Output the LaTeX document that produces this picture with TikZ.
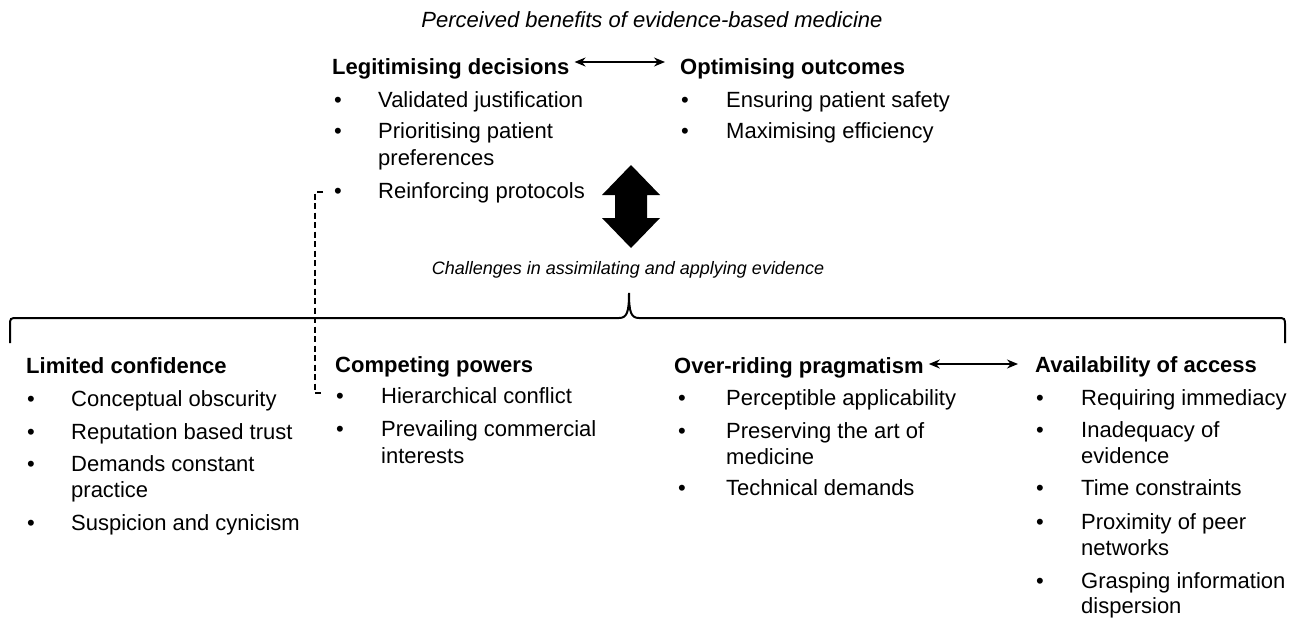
\documentclass[tikz,border=0pt]{standalone}
\usepackage{fontspec}
\setmainfont{Liberation Sans}
\usetikzlibrary{arrows.meta}
\begin{document}
\begin{tikzpicture}[x=1pt,y=-1pt,
  txt/.style={inner sep=0pt, anchor=west, font=\fontsize{22}{26}\selectfont, text height=20pt, text depth=3pt},
  head/.style={txt, font=\fontsize{22}{26}\selectfont\bfseries},
  bul/.style={txt},
  ttl/.style={inner sep=0pt, font=\fontsize{22}{26}\selectfont\itshape},
  sub/.style={inner sep=0pt, font=\fontsize{18}{22}\selectfont\itshape},
  link/.style={line width=1.6pt, {Stealth[length=11pt,width=9pt]}-{Stealth[length=11pt,width=9pt]}},
  dashlink/.style={line width=1.2pt, dash pattern=on 6pt off 3.5pt},
  bracestyle/.style={line width=2pt},
  bigarrow/.style={fill=black}
]
\useasboundingbox (0,0) rectangle (1298,619);

% ---- top: perceived benefits ----
\node[ttl] (title) at (652,20) {Perceived benefits of evidence-based medicine};

\node[head] (leg) at (332,66) {Legitimising decisions};
\node[head] (opt) at (680,66) {Optimising outcomes};
\draw[link] ([xshift=5pt,yshift=4pt]leg.east) -- ([xshift=-15pt,yshift=4pt]opt.west);

\node[bul] (lb1) at (334,99) {•};  \node[txt] (l1) at (378,99) {Validated justification};
\node[bul] (lb2) at (334,130) {•}; \node[txt] (l2a) at (378,130) {Prioritising patient};
                                   \node[txt] (l2b) at (378,157) {preferences};
\node[bul] (lb3) at (334,190) {•}; \node[txt] (l3) at (378,190) {Reinforcing protocols};

\node[bul] (ob1) at (681,99) {•};  \node[txt] (o1) at (726,99) {Ensuring patient safety};
\node[bul] (ob2) at (681,130) {•}; \node[txt] (o2) at (726,130) {Maximising efficiency};

% ---- big double arrow ----
\fill[bigarrow] (631,165) -- (660,195) -- (647,195) -- (647,218) -- (660,218) -- (631,248)
  -- (602,218) -- (615,218) -- (615,195) -- (602,195) -- cycle;

\node[sub] (chal) at (628,270) {Challenges in assimilating and applying evidence};

% ---- brace ----
\draw[bracestyle] (10,343) -- (10,326) .. controls (10,318) .. (18,318) -- (619,318)
  .. controls (627,318) and (629,312) .. (629,293)
  .. controls (629,312) and (631,318) .. (639,318) -- (1277,318)
  .. controls (1285,318) .. (1285,326) -- (1285,343);

% ---- bottom columns ----
\node[head] (lim) at (26,365) {Limited confidence};
\node[bul] (ab1) at (27,398) {•}; \node[txt] (a1) at (71,398) {Conceptual obscurity};
\node[bul] (ab2) at (27,431) {•}; \node[txt] (a2) at (71,431) {Reputation based trust};
\node[bul] (ab3) at (27,463) {•}; \node[txt] (a3a) at (71,463) {Demands constant};
                                  \node[txt] (a3b) at (71,489) {practice};
\node[bul] (ab4) at (27,522) {•}; \node[txt] (a4) at (71,522) {Suspicion and cynicism};

\node[head] (comp) at (335,364) {Competing powers};
\node[bul] (cb1) at (336,395) {•}; \node[txt] (c1) at (381,395) {Hierarchical conflict};
\node[bul] (cb2) at (336,428) {•}; \node[txt] (c2a) at (381,428) {Prevailing commercial};
                                  \node[txt] (c2b) at (381,455) {interests};

\node[head] (prag) at (674,365) {Over-riding pragmatism};
\node[bul] (pb1) at (678,397) {•}; \node[txt] (p1) at (726,397) {Perceptible applicability};
\node[bul] (pb2) at (678,430) {•}; \node[txt] (p2a) at (726,430) {Preserving the art of};
                                  \node[txt] (p2b) at (726,456) {medicine};
\node[bul] (pb3) at (678,487) {•}; \node[txt] (p3) at (726,487) {Technical demands};

\node[head] (avail) at (1035,364) {Availability of access};
\draw[link] ([xshift=5pt,yshift=1pt]prag.east) -- ([xshift=-17pt]avail.west);
\node[bul] (vb1) at (1036,397) {•}; \node[txt] (v1) at (1081,397) {Requiring immediacy};
\node[bul] (vb2) at (1036,429) {•}; \node[txt] (v2a) at (1081,429) {Inadequacy of};
                                   \node[txt] (v2b) at (1081,455) {evidence};
\node[bul] (vb3) at (1036,487) {•}; \node[txt] (v3) at (1081,487) {Time constraints};
\node[bul] (vb4) at (1036,521) {•}; \node[txt] (v4a) at (1081,521) {Proximity of peer};
                                   \node[txt] (v4b) at (1081,547) {networks};
\node[bul] (vb5) at (1036,580) {•}; \node[txt] (v5a) at (1081,580) {Grasping information};
                                   \node[txt] (v5b) at (1081,605) {dispersion};

% ---- dashed link ----
\draw[dashlink] ([xshift=-11pt,yshift=-2pt]lb3.west) -- ++(-8pt,0) |- ([xshift=-13pt,yshift=2pt]cb1.west);
\end{tikzpicture}
\end{document}
